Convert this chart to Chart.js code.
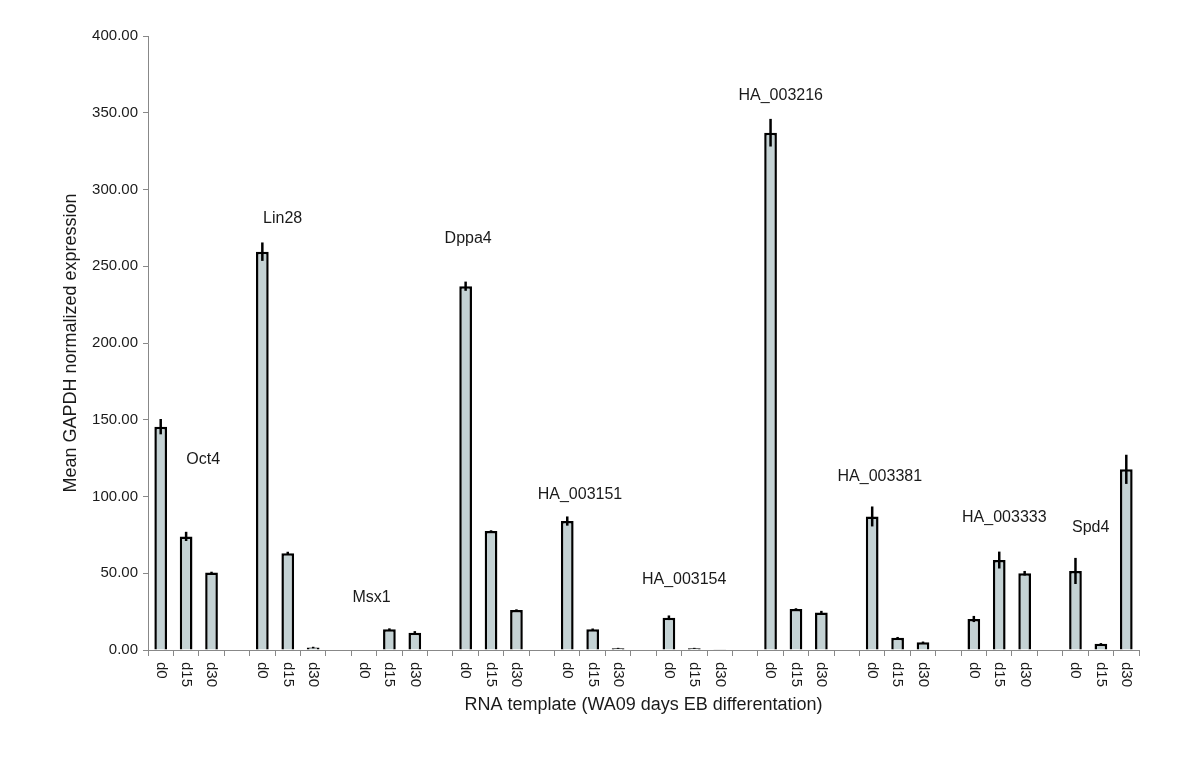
<!DOCTYPE html>
<html>
<head>
<meta charset="utf-8">
<script src="https://cdn.jsdelivr.net/npm/chart.js@4.4.1/dist/chart.umd.min.js"></script>
<style>
  html, body { margin: 0; padding: 0; background: #fff; }
  #wrap { width: 1200px; height: 760px; }
</style>
</head>
<body>
<div id="wrap"><canvas id="chart" width="1200" height="760"></canvas></div>
<script>
// datos
const categories = ['d0', 'd15', 'd30', '', 'd0', 'd15', 'd30', '', 'd0', 'd15', 'd30', '',
    'd0', 'd15', 'd30', '', 'd0', 'd15', 'd30', '', 'd0', 'd15', 'd30', '',
    'd0', 'd15', 'd30', '', 'd0', 'd15', 'd30', '', 'd0', 'd15', 'd30', '',
    'd0', 'd15', 'd30'];
const expression = [145.5, 74, 50.5, null, 259.5, 63, 1.6, null, 0, 13.5, 11.3, null,
    237, 77.5, 26, null, 84, 13.5, 1.1, null, 21, 1.1, 0.2, null,
    337, 26.7, 24.5, null, 87, 8, 5, null, 20.2, 58.6, 50, null,
    51.5, 4, 117.7];
const errors = [5, 3, 0.5, null, 6, 1, 0.5, null, 0, 0.6, 1, null,
    3, 0.5, 0.5, null, 3, 0.5, 0.3, null, 1.5, 0.3, 0, null,
    9, 0.5, 1, null, 6.5, 0.5, 0.5, null, 2, 5.5, 1.5, null,
    8.5, 0.5, 9.5];
const geneNames = ['Oct4', 'Lin28', 'Msx1', 'Dppa4', 'HA_003151', 'HA_003154',
    'HA_003216', 'HA_003381', 'HA_003333', 'Spd4'];
// posicion de cada nombre en unidades de datos (categoria, valor)
const geneLabelSlot = [1.67, 4.8, 8.3, 12.1, 16.5, 20.6, 24.4, 28.3, 33.2, 36.6];
const geneLabelValue = [124, 281, 34, 268, 101, 46, 361, 113, 86, 80];
const yTicks = [0, 50, 100, 150, 200, 250, 300, 350, 400];

const FONT = '"Liberation Sans", Arial, Helvetica, sans-serif';
const TEXT = '#1a1a1a';

// barras de error, etiquetas x giradas y nombres de genes
const extrasPlugin = {
    id: 'extras',
    afterDatasetsDraw(chart) {
        const { ctx, scales: { x, y } } = chart;
        ctx.save();
        ctx.strokeStyle = '#000';
        ctx.lineWidth = 2.5;
        expression.forEach((v, i) => {
            const e = errors[i];
            if (v === null || !e) return;
            const px = x.getPixelForValue(i);
            ctx.beginPath();
            ctx.moveTo(px, y.getPixelForValue(v - e));
            ctx.lineTo(px, y.getPixelForValue(v + e));
            ctx.stroke();
        });
        ctx.restore();
    },
    afterDraw(chart) {
        const { ctx, chartArea, scales: { x, y } } = chart;
        ctx.save();
        ctx.fillStyle = TEXT;
        ctx.font = '15px ' + FONT;
        ctx.textAlign = 'left';
        ctx.textBaseline = 'middle';
        categories.forEach((lab, i) => {
            if (!lab) return;
            ctx.save();
            ctx.translate(x.getPixelForValue(i), chartArea.bottom + 12);
            ctx.rotate(Math.PI / 2);
            ctx.fillText(lab, 0, 0);
            ctx.restore();
        });
        ctx.font = '16px ' + FONT;
        ctx.textAlign = 'center';
        geneNames.forEach((name, i) => {
            ctx.fillText(name, x.getPixelForValue(geneLabelSlot[i]), y.getPixelForValue(geneLabelValue[i]));
        });
        ctx.restore();
    }
};

new Chart(document.getElementById('chart'), {
    type: 'bar',
    data: {
        labels: categories,
        datasets: [{
            data: expression,
            backgroundColor: '#c4d2d4',
            borderColor: '#000',
            borderWidth: 2.5,
            categoryPercentage: 1,
            barPercentage: 0.5
        }]
    },
    options: {
        responsive: false,
        animation: false,
        layout: { padding: { left: 60, right: 61, top: 36, bottom: 0 } },
        plugins: { legend: { display: false }, tooltip: { enabled: false } },
        scales: {
            x: {
                ticks: { display: false },
                grid: { drawOnChartArea: false, tickLength: 6, color: '#888', lineWidth: 1 },
                border: { color: '#888', width: 1 },
                title: {
                    display: true,
                    text: 'RNA template (WA09 days EB differentation)',
                    color: TEXT,
                    font: { family: FONT, size: 18 },
                    padding: { top: 0, bottom: 44 }
                },
                afterFit(scale) { scale.height = 110; }
            },
            y: {
                min: 0,
                max: 400,
                afterBuildTicks(scale) { scale.ticks = yTicks.map(v => ({ value: v })); },
                ticks: {
                    color: TEXT,
                    padding: 5,
                    font: { family: FONT, size: 15 },
                    callback: v => v.toFixed(2)
                },
                grid: { drawOnChartArea: false, tickLength: 5, color: '#888', lineWidth: 1 },
                border: { color: '#888', width: 1 },
                title: {
                    display: true,
                    text: 'Mean GAPDH normalized expression',
                    color: TEXT,
                    font: { family: FONT, size: 18 },
                    padding: { top: 0, bottom: 0 }
                },
                afterFit(scale) { scale.width = 88; }
            }
        }
    },
    plugins: [extrasPlugin]
});
</script>
</body>
</html>
